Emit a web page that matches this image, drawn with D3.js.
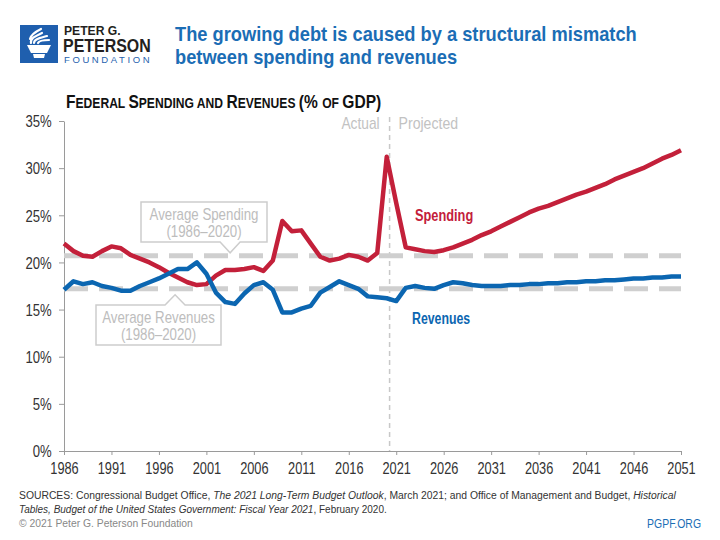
<!DOCTYPE html>
<html>
<head>
<meta charset="utf-8">
<script src="https://cdn.jsdelivr.net/npm/d3@7"></script>
<style>
  body { margin: 0; background: #fff; }
  svg { display: block; }
  .axis text { font-family: "Liberation Sans", Arial, sans-serif; font-size: 16px; fill: #333; }
  .axis path, .axis line { stroke: #9a9a9a; }
</style>
</head>
<body>
<svg id="chart" width="720" height="540"></svg>
<script>
// Federal spending and revenues, % of GDP (actual to 2020, CBO projection after)
var years = d3.range(1986, 2052);
var spending = [
  22.0, 21.2, 20.7, 20.6, 21.2, 21.7, 21.5, 20.8, 20.4, 20.0,   // 1986-1995
  19.5, 18.9, 18.4, 17.9, 17.6, 17.7, 18.6, 19.2, 19.2, 19.3,   // 1996-2005
  19.5, 19.1, 20.2, 24.4, 23.3, 23.4, 22.0, 20.6, 20.2, 20.4,   // 2006-2015
  20.8, 20.6, 20.2, 21.0, 31.2, 26.3, 21.6, 21.4, 21.2, 21.1,   // 2016-2025
  21.3, 21.6, 22.0, 22.4, 22.9, 23.3, 23.8, 24.3, 24.8, 25.3,   // 2026-2035
  25.7, 26.0, 26.4, 26.8, 27.2, 27.5, 27.9, 28.3, 28.8, 29.2,   // 2036-2045
  29.6, 30.0, 30.5, 31.0, 31.4, 31.9                            // 2046-2051
];
var revenues = [
  17.1, 18.0, 17.7, 17.9, 17.5, 17.3, 17.0, 17.0, 17.5, 17.9,
  18.3, 18.8, 19.3, 19.3, 20.0, 18.8, 16.8, 15.8, 15.6, 16.7,
  17.6, 17.9, 17.1, 14.7, 14.7, 15.1, 15.4, 16.8, 17.4, 18.0,
  17.6, 17.2, 16.4, 16.3, 16.2, 15.9, 17.3, 17.5, 17.3, 17.2,
  17.6, 17.9, 17.8, 17.6, 17.5, 17.5, 17.5, 17.6, 17.6, 17.7,
  17.7, 17.8, 17.8, 17.9, 17.9, 18.0, 18.0, 18.1, 18.1, 18.2,
  18.3, 18.3, 18.4, 18.4, 18.5, 18.5
];
var avgSpending = 20.7, avgRevenues = 17.2;   // 1986-2020 averages
var splitYear = 2020.3;                        // actual | projected
var yTicks = [0, 5, 10, 15, 20, 25, 30, 35];
var xTicks = [1986, 1991, 1996, 2001, 2006, 2011, 2016, 2021, 2026, 2031, 2036, 2041, 2046, 2051];

// no condensed face installed -> squeeze Liberation Sans horizontally
var FONT = "'Liberation Sans', Arial, sans-serif";
var RED = "#c3203a", BLUE = "#0b66b1", TITLEBLUE = "#1b6db5", GREY = "#c2c2c2";

var svg = d3.select("#chart");
svg.append("rect").attr("width", 720).attr("height", 540).attr("fill", "#fff");

function txt(x, y, k, size, fill, weight) {
  return svg.append("g").attr("transform", "translate(" + x + "," + y + ") scale(" + k + ",1)")
    .append("text").attr("font-family", FONT).attr("font-size", size).attr("fill", fill)
    .attr("font-weight", weight || "normal");
}

// ---- logo + title
var logo = svg.append("g");
logo.append("rect").attr("x", 20).attr("y", 25).attr("width", 38).attr("height", 38).attr("fill", "#1f5fae");
logo.append("path").attr("fill", "#fff")
  .attr("d", "M27,45 L51,45 L47,53 L31,53 Z M33,54 L45,54 L44,58 L34,58 Z");
logo.append("path").attr("fill", "none").attr("stroke", "#fff").attr("stroke-width", 2.2).attr("stroke-linecap", "round")
  .attr("d", "M31,43 C30,38 36,36 42,33 M34,43 C34,39 40,38 47,36 M38,43 C39,41 44,40 49,40 M30,39 C31,34 37,31 41,29");
txt(64, 35, 0.9, 13.5, "#231f20", "bold").text("PETER G.");
txt(63, 52, 0.84, 19, "#231f20", "bold").text("PETERSON");
txt(64, 63, 1, 9.5, "#1f5fae").attr("letter-spacing", "2.6px").text("FOUNDATION");

txt(175, 41, 0.87, 21, TITLEBLUE, "bold").text("The growing debt is caused by a structural mismatch");
txt(175, 64, 0.87, 21, TITLEBLUE, "bold").text("between spending and revenues");

// chart subtitle in small caps
var sub = txt(66, 108, 0.865, 18, "#111", "bold");
[["F", 1], ["EDERAL ", 0], ["S", 1], ["PENDING AND ", 0], ["R", 1], ["EVENUES ", 0], ["(% ", 1], ["OF ", 0], ["GDP)", 1]]
  .forEach(function (p) { sub.append("tspan").attr("font-size", p[1] ? 18 : 14).text(p[0]); });

// ---- scales
var x = d3.scaleLinear().domain([1986, 2051]).range([64, 681]);
var y = d3.scaleLinear().domain([0, 35]).range([451, 121]);

// axes
svg.append("g").attr("class", "axis").attr("transform", "translate(64,0)")
  .call(d3.axisLeft(y).tickValues(yTicks).tickFormat(function (d) { return d + "%"; }).tickSize(5).tickSizeOuter(0).tickPadding(10))
  .selectAll("text").attr("dy", "0.36em").attr("transform", "scale(0.82,1)");
svg.append("g").attr("class", "axis").attr("transform", "translate(0,451)")
  .call(d3.axisBottom(x).tickValues(xTicks).tickFormat(d3.format("d")).tickSize(4).tickSizeOuter(0).tickPadding(8))
  .selectAll("text").attr("transform", "scale(0.8,1)");

// actual / projected divider
svg.append("line").attr("x1", x(splitYear)).attr("x2", x(splitYear)).attr("y1", 117).attr("y2", y(0))
  .attr("stroke", "#c8c8c8").attr("stroke-width", 1.5).attr("stroke-dasharray", "5,4");
txt(x(splitYear) - 10, 129, 0.86, 16, GREY).attr("text-anchor", "end").text("Actual");
txt(x(splitYear) + 9, 129, 0.88, 16, GREY).text("Projected");

// average reference lines
[avgSpending, avgRevenues].forEach(function (v) {
  svg.append("line").attr("x1", x(1986)).attr("x2", x(2051)).attr("y1", y(v)).attr("y2", y(v))
    .attr("stroke", "#cfcfcf").attr("stroke-width", 5).attr("stroke-dasharray", "24,11");
});

// data lines
var line = d3.line().x(function (d) { return x(d[0]); }).y(function (d) { return y(d[1]); });
[[spending, RED], [revenues, BLUE]].forEach(function (s) {
  svg.append("path").datum(years.map(function (yr, i) { return [yr, s[0][i]]; }))
    .attr("d", line).attr("fill", "none").attr("stroke", s[1]).attr("stroke-width", 4.5)
    .attr("stroke-linejoin", "round");
});

txt(415, 221, 0.8, 16, RED, "bold").text("Spending");
txt(412, 324, 0.77, 16, BLUE, "bold").text("Revenues");

// callout boxes pointing at the average lines
function callout(x0, y0, w, h, tipX, tipY, down, lines) {
  var d;
  if (down) {
    d = "M" + x0 + "," + y0 + "H" + (x0 + w) + "V" + (y0 + h) + "H" + (tipX + 10) + "L" + tipX + "," + tipY +
        "L" + (tipX - 10) + "," + (y0 + h) + "H" + x0 + "Z";
  } else {
    d = "M" + x0 + "," + y0 + "H" + (tipX - 10) + "L" + tipX + "," + tipY + "L" + (tipX + 10) + "," + y0 +
        "H" + (x0 + w) + "V" + (y0 + h) + "H" + x0 + "Z";
  }
  svg.append("path").attr("d", d).attr("fill", "#fff").attr("stroke", "#cdcdcd").attr("stroke-width", 1.5);
  lines.forEach(function (t, i) {
    txt(x0 + w / 2, y0 + 18 + i * 17, 0.83, 16, "#bdbdbd").attr("text-anchor", "middle").text(t);
  });
}
callout(141, 202, 126, 40, x(2003.5), y(avgSpending) - 3, true, ["Average Spending", "(1986\u20132020)"]);
callout(96, 305, 125, 40, x(1997.7), y(avgRevenues) + 6, false, ["Average Revenues", "(1986\u20132020)"]);

// ---- footer
var l1 = txt(19, 499, 0.9, 11.5, "#333");
l1.append("tspan").text("SOURCES: Congressional Budget Office, ");
l1.append("tspan").attr("font-style", "italic").text("The 2021 Long-Term Budget Outlook");
l1.append("tspan").text(", March 2021; and Office of Management and Budget, ");
l1.append("tspan").attr("font-style", "italic").text("Historical");
var l2 = txt(19, 513, 0.87, 11.5, "#333");
l2.append("tspan").attr("font-style", "italic").text("Tables, Budget of the United States Government: Fiscal Year 2021");
l2.append("tspan").text(", February 2020.");
txt(19, 527, 0.9, 11.5, "#888").text("\u00a9 2021 Peter G. Peterson Foundation");
txt(701, 528, 0.87, 12, TITLEBLUE).attr("text-anchor", "end").text("PGPF.ORG");
</script>
</body>
</html>
